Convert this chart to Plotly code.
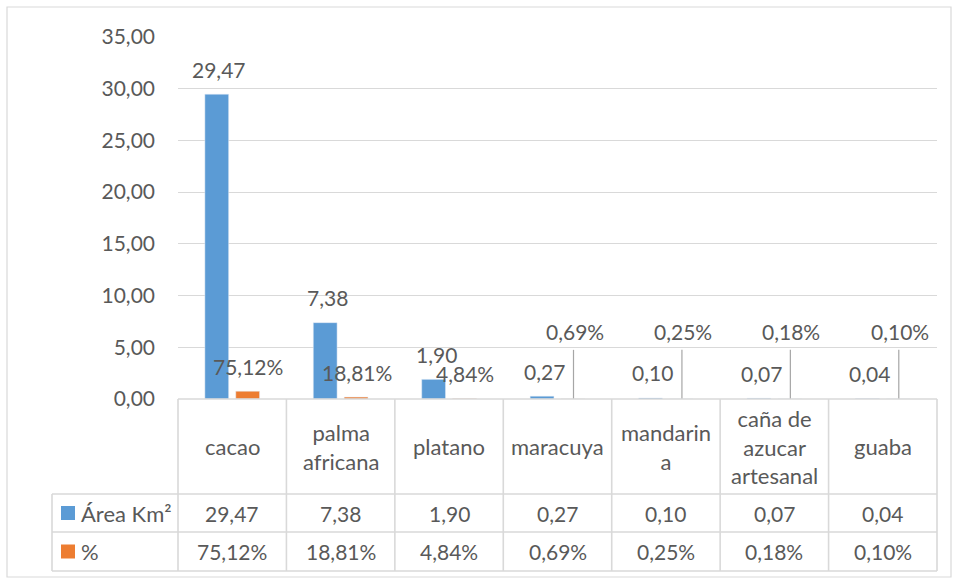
import plotly.graph_objects as go

# ---------------- data ----------------
categories = ["cacao", "palma africana", "platano", "maracuya", "mandarina",
              "caña de azucar artesanal", "guaba"]
category_table_labels = ["cacao", "palma<br>africana", "platano", "maracuya",
                         "mandarin<br>a", "caña de<br>azucar<br>artesanal", "guaba"]
area_km2 = [29.47, 7.38, 1.90, 0.27, 0.10, 0.07, 0.04]
pct = [0.7512, 0.1881, 0.0484, 0.0069, 0.0025, 0.0018, 0.0010]
series_names = ["Área Km²", "%"]
y_ticks = [0, 5, 10, 15, 20, 25, 30, 35]

# ---------------- style ----------------
BLUE = "#5B9BD5"
ORANGE = "#ED7D31"
TEXT = "#595959"
GRID = "#D9D9D9"
LEADER = "#A6A6A6"
FONT = "Lato"
FS = 21

W, H = 956, 580
L, R, T, B = 178, 19, 37, 181
PW = W - L - R
PH = H - T - B


def px2paper_x(px):
    return (px - L) / PW


def px2paper_y(py):
    return (H - B - py) / PH


def fmt(v):
    return f"{v:.2f}".replace(".", ",")


def fmt_pct(v):
    return f"{v * 100:.2f}".replace(".", ",") + "%"


fig = go.Figure()
fig.add_trace(go.Bar(x=categories, y=area_km2, name=series_names[0],
                     marker_color=BLUE))
fig.add_trace(go.Bar(x=categories, y=pct, name=series_names[1],
                     marker_color=ORANGE))

n = len(categories)
cat_w = PW / n
blue_shift = -15
orange_shift = 16

annotations = []
shapes = []

# data labels
for i, c in enumerate(categories):
    annotations.append(dict(x=c, y=area_km2[i], xref="x", yref="y",
                            text=fmt(area_km2[i]), showarrow=False,
                            xshift=blue_shift + 2, yshift=25,
                            font=dict(family=FONT, size=FS, color=TEXT)))
LEADER_FROM = 3          # labels moved up with leader lines from this index
LABEL_Y_MOVED = 6.5      # label placement (data units) for moved labels
LEADER_TOP = 4.75
for i, c in enumerate(categories):
    if i < LEADER_FROM:
        annotations.append(dict(x=c, y=pct[i], xref="x", yref="y",
                                text=fmt_pct(pct[i]), showarrow=False,
                                xshift=orange_shift, yshift=25,
                                font=dict(family=FONT, size=FS, color=TEXT)))
    else:
        annotations.append(dict(x=c, y=LABEL_Y_MOVED, xref="x", yref="y",
                                text=fmt_pct(pct[i]), showarrow=False,
                                xshift=orange_shift + 1,
                                font=dict(family=FONT, size=FS, color=TEXT)))
        xc = i + orange_shift / cat_w
        shapes.append(dict(type="line", xref="x", yref="y",
                           x0=xc, x1=xc, y0=pct[i], y1=LEADER_TOP,
                           line=dict(color=LEADER, width=1.2)))

# ---------------- data table ----------------
y_top = 399
y_r1 = 494
y_r2 = 532
y_bot = 571
x_left = 52
line_style = dict(color=GRID, width=1.6)

# horizontal lines
shapes.append(dict(type="line", xref="paper", yref="paper",
                   x0=0, x1=1, y0=px2paper_y(y_top), y1=px2paper_y(y_top), line=line_style))
for yy in (y_r1, y_r2, y_bot):
    shapes.append(dict(type="line", xref="paper", yref="paper",
                       x0=px2paper_x(x_left), x1=1,
                       y0=px2paper_y(yy), y1=px2paper_y(yy), line=line_style))
# vertical lines
for k in range(n + 1):
    xx = L + k * cat_w
    shapes.append(dict(type="line", xref="paper", yref="paper",
                       x0=px2paper_x(xx), x1=px2paper_x(xx),
                       y0=px2paper_y(y_top), y1=px2paper_y(y_bot), line=line_style))
shapes.append(dict(type="line", xref="paper", yref="paper",
                   x0=px2paper_x(x_left), x1=px2paper_x(x_left),
                   y0=px2paper_y(y_r1), y1=px2paper_y(y_bot), line=line_style))

# header labels & values
for i, c in enumerate(categories):
    annotations.append(dict(x=i, xref="x", yref="paper",
                            y=px2paper_y((y_top + y_r1) / 2),
                            text=category_table_labels[i], showarrow=False,
                            align="center", yanchor="middle",
                            font=dict(family=FONT, size=FS + 1, color=TEXT)))
    annotations.append(dict(x=i, xref="x", yref="paper",
                            y=px2paper_y((y_r1 + y_r2) / 2),
                            text=fmt(area_km2[i]), showarrow=False, yanchor="middle",
                            font=dict(family=FONT, size=FS, color=TEXT)))
    annotations.append(dict(x=i, xref="x", yref="paper",
                            y=px2paper_y((y_r2 + y_bot) / 2),
                            text=fmt_pct(pct[i]), showarrow=False, yanchor="middle",
                            font=dict(family=FONT, size=FS, color=TEXT)))

# legend keys in table
for name, col, (ya, yb) in ((series_names[0], BLUE, (y_r1, y_r2)),
                            (series_names[1], ORANGE, (y_r2, y_bot))):
    yc = (ya + yb) / 2
    shapes.append(dict(type="rect", xref="paper", yref="paper",
                       x0=px2paper_x(61), x1=px2paper_x(75),
                       y0=px2paper_y(yc + 7), y1=px2paper_y(yc - 7),
                       fillcolor=col, line=dict(width=0)))
    annotations.append(dict(x=px2paper_x(79), xref="paper", yref="paper",
                            y=px2paper_y(yc), text=name, showarrow=False,
                            xanchor="left", yanchor="middle",
                            font=dict(family=FONT, size=FS + 1, color=TEXT)))

# outer chart border
shapes.append(dict(type="rect", xref="paper", yref="paper",
                   x0=px2paper_x(7), x1=px2paper_x(951),
                   y0=px2paper_y(577), y1=px2paper_y(7),
                   line=dict(color=GRID, width=1.2), fillcolor="rgba(0,0,0,0)"))

fig.update_layout(
    width=W, height=H,
    margin=dict(l=L, r=R, t=T, b=B),
    paper_bgcolor="white", plot_bgcolor="white",
    separators=",.",
    barmode="group", bargap=0.43, bargroupgap=0.23,
    showlegend=False,
    font=dict(family=FONT, size=FS, color=TEXT),
    xaxis=dict(range=[-0.5, n - 0.5], showticklabels=False, showgrid=False,
               zeroline=False, showline=False, ticks=""),
    yaxis=dict(range=[0, 35], tickvals=y_ticks, tickformat=".2f",
               showgrid=True, gridcolor=GRID, gridwidth=1.3, zeroline=False,
               showline=False, ticks="", ticklabelstandoff=22,
               tickfont=dict(family=FONT, size=FS, color=TEXT)),
    annotations=annotations,
    shapes=shapes,
)

fig.write_html("out.html", config={"displayModeBar": False},
               post_script="document.body.style.margin='0';document.body.style.padding='0';")
